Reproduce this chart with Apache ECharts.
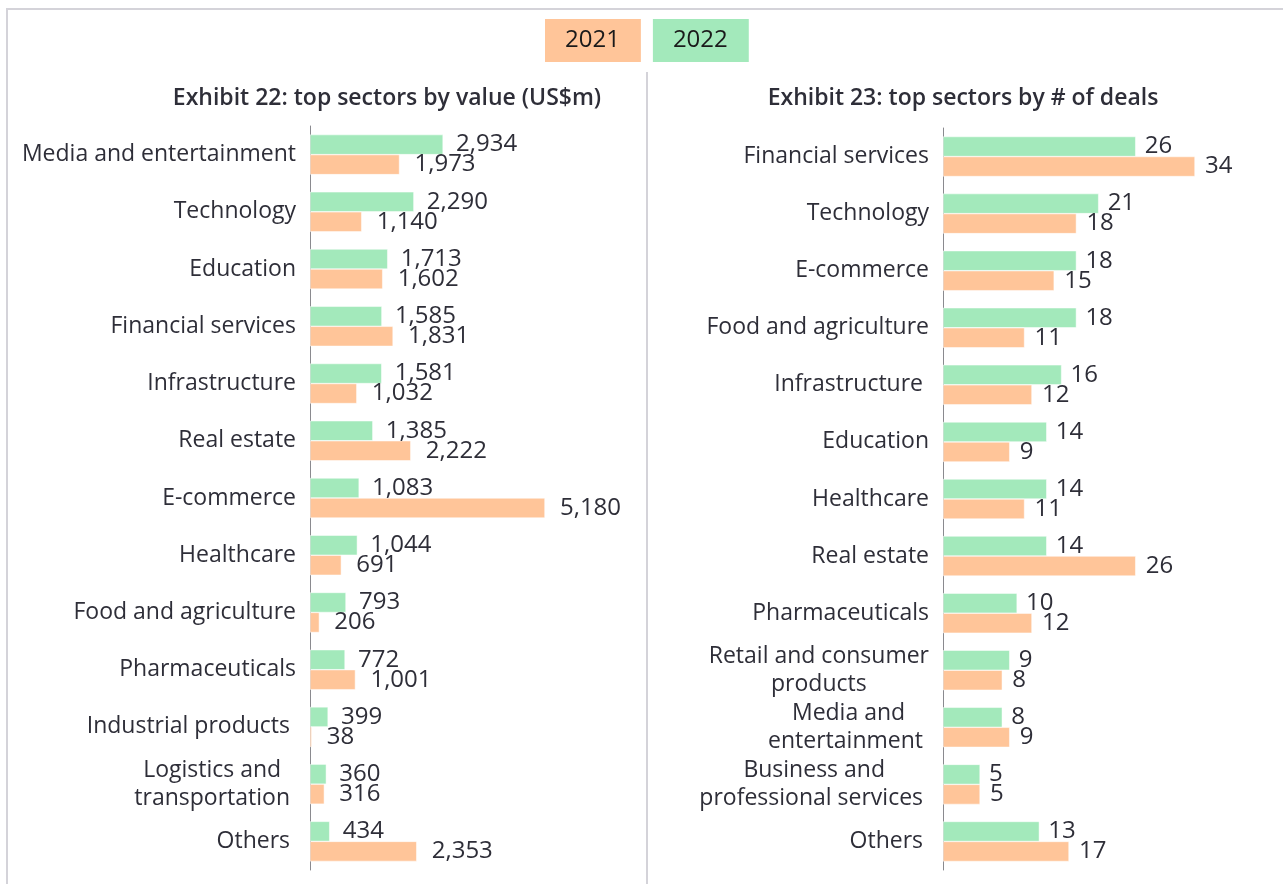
<!DOCTYPE html>
<html>
<head>
<meta charset="utf-8">
<script src="https://cdn.jsdelivr.net/npm/echarts@6/dist/echarts.min.js"></script>
<style>
  html, body { margin: 0; padding: 0; background: #fff; }
  #chart { width: 1283px; height: 884px; }
</style>
</head>
<body>
<div id="chart"></div>
<script>
// exhibit 22: value (US$m)
// (some source labels carry a trailing space, kept as in the original)
const valueSectors = [
  "Media and entertainment", "Technology", "Education", "Financial services",
  "Infrastructure", "Real estate", "E-commerce", "Healthcare",
  "Food and agriculture", "Pharmaceuticals", "Industrial products ",
  "Logistics and \ntransportation ", "Others "
];
const value2022 = [2934, 2290, 1713, 1585, 1581, 1385, 1083, 1044, 793, 772, 399, 360, 434];
const value2021 = [1973, 1140, 1602, 1831, 1032, 2222, 5180, 691, 206, 1001, 38, 316, 2353];

// exhibit 23: number of deals
const dealSectors = [
  "Financial services", "Technology", "E-commerce", "Food and agriculture",
  "Infrastructure ", "Education", "Healthcare", "Real estate", "Pharmaceuticals",
  "Retail and consumer\nproducts", "Media and\nentertainment ",
  "Business and\nprofessional services ", "Others "
];
const deals2022 = [26, 21, 18, 18, 16, 14, 14, 14, 10, 9, 8, 5, 13];
const deals2021 = [34, 18, 15, 11, 12, 9, 11, 26, 12, 8, 9, 5, 17];

const seriesNames = ["2021", "2022"];
const titles = ["Exhibit 22: top sectors by value (US$m)", "Exhibit 23: top sectors by # of deals"];

const FONT = "Open Sans";
const TEXT = "#2e2e38";
const ORANGE = "#ffc599";
const GREEN = "#a3e9bb";
const LINE = "#d4d3d9";

var myChart = echarts.init(document.getElementById("chart"));

function catAxis(idx, data) {
  return {
    type: "category",
    gridIndex: idx,
    data: data,
    inverse: true,
    axisTick: { show: false },
    axisLine: { show: true, lineStyle: { color: "#8a8a8f", width: 1 } },
    axisLabel: {
      margin: 14,
      interval: 0,
      // center the lines of two-line labels on each other
      formatter: (v) => v.split("\n").map((s) => "{c|" + s + "}").join("\n"),
      rich: {
        c: { align: "center", fontFamily: FONT, fontSize: 23, lineHeight: 28, color: TEXT }
      }
    }
  };
}

function valAxis(idx, max) {
  return {
    type: "value",
    gridIndex: idx,
    min: 0,
    max: max,
    show: false,
    splitLine: { show: false }
  };
}

function bar(name, idx, data, color, dist, fmt) {
  return {
    name: name,
    type: "bar",
    xAxisIndex: idx,
    yAxisIndex: idx,
    data: data,
    barWidth: 20,
    barGap: "0%",
    itemStyle: { color: color, borderColor: "#ffffff", borderWidth: 0.5 },
    label: {
      show: true,
      position: "right",
      distance: dist,
      fontFamily: FONT,
      fontSize: 24,
      color: TEXT,
      formatter: (p) => fmt(p.value)
    }
  };
}

const thousands = (v) => v.toLocaleString("en-US");
const plain = (v) => String(v);

var option = {
  animation: false,
  textStyle: { fontFamily: FONT },
  legend: {
    left: 535,
    top: 14,
    itemGap: 7,
    itemWidth: 0,
    itemHeight: 0,
    data: [
      { name: seriesNames[0], icon: "none",
        textStyle: { backgroundColor: ORANGE, padding: [10, 21, 9, 20], lineHeight: 24, fontSize: 24, color: "#1a1a1a", fontFamily: FONT } },
      { name: seriesNames[1], icon: "none",
        textStyle: { backgroundColor: GREEN, padding: [10, 21, 9, 20], lineHeight: 24, fontSize: 24, color: "#1a1a1a", fontFamily: FONT } }
    ]
  },
  title: [
    { text: titles[0], left: 382, top: 82, textAlign: "center",
      textStyle: { fontFamily: FONT, fontSize: 23, fontWeight: 600, color: TEXT } },
    { text: titles[1], left: 958, top: 82, textAlign: "center",
      textStyle: { fontFamily: FONT, fontSize: 23, fontWeight: 600, color: TEXT } }
  ],
  graphic: [
    { type: "line", silent: true, shape: { x1: 6, y1: 9, x2: 1283, y2: 9 }, style: { stroke: LINE, lineWidth: 2 } },
    { type: "line", silent: true, shape: { x1: 7, y1: 8, x2: 7, y2: 884 }, style: { stroke: LINE, lineWidth: 2 } },
    { type: "line", silent: true, shape: { x1: 647, y1: 72, x2: 647, y2: 884 }, style: { stroke: LINE, lineWidth: 2 } }
  ],
  grid: [
    { left: 310, top: 126, width: 317.5, height: 744 },
    { left: 943, top: 128, width: 333.5, height: 742 }
  ],
  xAxis: [valAxis(0, 7000), valAxis(1, 45)],
  yAxis: [catAxis(0, valueSectors), catAxis(1, dealSectors)],
  series: [
    bar(seriesNames[1], 0, value2022, GREEN, 13, thousands),
    bar(seriesNames[0], 0, value2021, ORANGE, 15, thousands),
    bar(seriesNames[1], 1, deals2022, GREEN, 9, plain),
    bar(seriesNames[0], 1, deals2021, ORANGE, 10, plain)
  ]
};

myChart.setOption(option);
</script>
</body>
</html>
